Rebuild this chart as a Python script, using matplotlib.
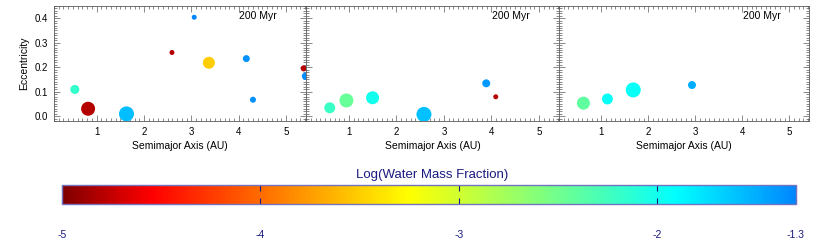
import matplotlib
matplotlib.use("Agg")
import matplotlib.pyplot as plt
import numpy as np
from matplotlib.colors import LinearSegmentedColormap, Normalize
from matplotlib.cm import ScalarMappable
from matplotlib.ticker import MultipleLocator, FormatStrFormatter

plt.rcParams['font.family'] = ['Liberation Sans', 'DejaVu Sans']

# --- data: three simulations at 200 Myr ---
a1 = [0.54, 0.82, 1.63, 2.59, 3.06, 3.37, 4.16, 4.30, 5.37, 5.41]
e1 = [0.109, 0.030, 0.009, 0.260, 0.404, 0.218, 0.235, 0.067, 0.195, 0.163]
m1 = [0.22, 0.81, 1.00, 0.037, 0.037, 0.51, 0.10, 0.064, 0.064, 0.12]
w1 = [-2.17, -4.8, -1.58, -4.8, -1.3, -3.51, -1.35, -1.35, -4.8, -1.35]

a2 = [0.60, 0.95, 1.50, 2.58, 3.89, 4.09]
e2 = [0.034, 0.064, 0.075, 0.007, 0.134, 0.079]
m2 = [0.39, 0.81, 0.65, 1.00, 0.15, 0.037]
w2 = [-2.2, -2.45, -2.0, -1.6, -1.4, -4.8]

a3 = [0.62, 1.13, 1.68, 2.93]
e3 = [0.053, 0.070, 0.107, 0.127]
m3 = [0.65, 0.39, 1.00, 0.15]
w3 = [-2.4, -1.95, -1.95, -1.5]

panels = [(a1, e1, m1, w1), (a2, e2, m2, w2), (a3, e3, m3, w3)]
time_label = "200 Myr"
wmin, wmax = -5.0, -1.3
cbar_ticks = [-5, -4, -3, -2, -1.3]
cbar_ticklabels = ["-5", "-4", "-3", "-2", "-1.3"]

# colour table: dark red -> red -> yellow -> cyan -> blue
def _p(v):
    return (v - wmin) / (wmax - wmin)

cmap = LinearSegmentedColormap.from_list("water", [
    (0.0, (0.5, 0.0, 0.0)),
    (_p(-4.55), (1.0, 0.0, 0.0)),
    (_p(-3.25), (1.0, 1.0, 0.0)),
    (_p(-1.9), (0.0, 1.0, 1.0)),
    (1.0, (0.0, 0.53, 1.0)),
])
norm = Normalize(wmin, wmax)

W, H = 830, 244
fig = plt.figure(figsize=(W / 100, H / 100), dpi=100)

edges = [(54, 306), (306, 559), (559, 809)]
top, bot = 6, 121
navy = (0.1, 0.1, 0.5)
frame = '0.35'

for i, ((x0, x1), (a, e, m, w)) in enumerate(zip(edges, panels)):
    ax = fig.add_axes([x0 / W, 1 - bot / H, (x1 - x0) / W, (bot - top) / H])
    d = 15 * np.cbrt(np.array(m))          # marker diameter in px
    s = (d * 0.72) ** 2
    ax.scatter(a, e, s=s, c=cmap(norm(np.array(w))), edgecolors='none', zorder=3)
    ax.set_xlim(0.1, 5.42)
    ax.set_ylim(-0.02, 0.45)
    ax.xaxis.set_major_locator(MultipleLocator(1))
    ax.xaxis.set_minor_locator(MultipleLocator(0.1))
    ax.yaxis.set_major_locator(MultipleLocator(0.1))
    ax.yaxis.set_minor_locator(MultipleLocator(0.01))
    ax.yaxis.set_major_formatter(FormatStrFormatter('%.1f'))
    ax.tick_params(which='both', direction='in', top=True, right=True,
                   colors=frame, labelcolor='black', labelsize=7, width=0.5)
    ax.tick_params(which='major', length=4, pad=4)
    ax.tick_params(which='minor', length=2)
    for sp in ax.spines.values():
        sp.set_color(frame)
        sp.set_linewidth(0.6)
    ax.set_xlabel("Semimajor Axis (AU)", fontsize=7.5, labelpad=3)
    if i == 0:
        ax.set_ylabel("Eccentricity", fontsize=7.5, labelpad=4)
    else:
        ax.set_yticklabels([])
    ax.text(0.735, 0.915, time_label, transform=ax.transAxes, fontsize=7.5,
            ha='left', va='center')

# colour bar
cax = fig.add_axes([62 / W, 1 - 204 / H, (796 - 62) / W, (204 - 185) / H])
cb = fig.colorbar(ScalarMappable(norm=norm, cmap=cmap), cax=cax,
                  orientation='horizontal')
cb.set_ticks(cbar_ticks)
cb.set_ticklabels(cbar_ticklabels)
cb.outline.set_edgecolor((0.45, 0.45, 0.75))
cb.outline.set_linewidth(1.0)
cax.tick_params(direction='in', top=True, bottom=True, length=4, width=0.8,
                colors=navy, labelsize=7.5, pad=19)
fig.text(432 / W, 1 - 175 / H, "Log(Water Mass Fraction)", color=navy,
         fontsize=9.5, ha='center', va='center')

fig.savefig("out.png", dpi=100)
